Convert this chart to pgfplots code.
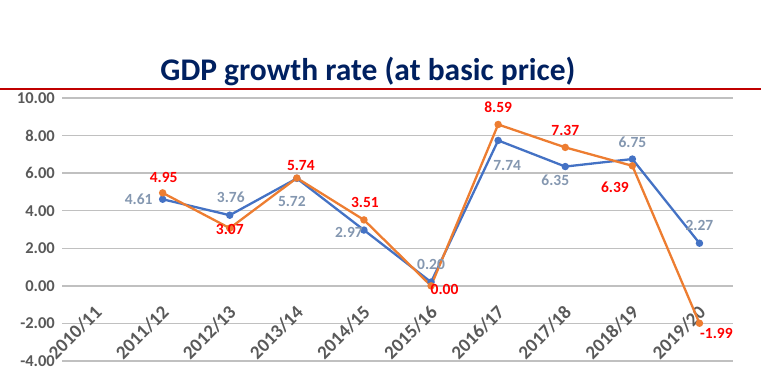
\documentclass[border=0pt]{standalone}
\usepackage{fontspec}
\setmainfont{Carlito}
\usepackage{pgfplots}
\usepackage{pgfplotstable}
\pgfplotsset{compat=1.18}
\definecolor{sblue}{HTML}{4472C4}
\definecolor{sorange}{HTML}{ED7D31}
\definecolor{lblue}{HTML}{8497B0}
\definecolor{lred}{HTML}{FF0000}
\definecolor{tgray}{HTML}{595959}
\definecolor{ggray}{HTML}{C0C0C0}
\definecolor{navy}{HTML}{002060}
\definecolor{dred}{HTML}{C00000}

\pgfplotstableread{
x y lab dx dy
1 4.61 4.61 -24 0
2 3.76 3.76 1 18
3 5.72 5.72 -5 -23.5
4 2.97 2.97 -15 -2
5 0.20 0.20 0 18
6 7.74 7.74 9 -25
7 6.35 6.35 -10 -13.5
8 6.75 6.75 0 17
9 2.27 2.27 0 17.5
}\blueseries

\pgfplotstableread{
x y lab dx dy
1 4.95 4.95 1 15.5
2 3.07 3.07 0 -1
3 5.74 5.74 4 12.5
4 3.51 3.51 1 17
5 0.00 0.00 13.5 -4
6 8.59 8.59 0 17
7 7.37 7.37 0 17
8 6.39 6.39 -17.5 -21
9 -1.99 -1.99 17 -10
}\orangeseries

\begin{document}
\begin{tikzpicture}
\path[use as bounding box] (0,0) rectangle (761pt,371pt);
\node[anchor=base, text=navy, font=\bfseries\fontsize{31.5}{32}\selectfont, inner sep=0pt] at (368pt,290pt) {GDP growth rate (at basic price)};
\draw[dred, line width=1.3pt] (0pt,282pt) -- (761pt,282pt);
\begin{axis}[
  at={(62pt,10pt)}, anchor=south west,
  scale only axis, width=671pt, height=263pt,
  xmin=-0.5, xmax=9.5, ymin=-4, ymax=10,
  xtick={0,...,9},
  xticklabels={2010/11,2011/12,2012/13,2013/14,2014/15,2015/16,2016/17,2017/18,2018/19,2019/20},
  ytick={-4,-2,0,2,4,6,8,10},
  yticklabels={-4.00,-2.00,0.00,2.00,4.00,6.00,8.00,10.00},
  ymajorgrids, grid style={ggray, line width=1.4pt},
  axis line style={draw=none},
  major tick length=0pt, tick style={draw=none},
  yticklabel style={font=\bfseries\fontsize{16.5}{16.5}\selectfont, text=tgray, inner sep=0pt, xshift=-7pt},
  xticklabel style={font=\bfseries\fontsize{19}{19}\selectfont, text=tgray, inner sep=0pt, yshift=52pt, xshift=3pt, rotate=45, anchor=east},
  clip=false,
  point meta=explicit symbolic,
  nodes near coords={\pgfplotspointmeta},
  visualization depends on={\thisrow{dx} \as \mydx},
  visualization depends on={\thisrow{dy} \as \mydy},
]
\addplot[sblue, line width=2.3pt, mark=*, mark size=2.5pt,
  every node near coord/.append style={anchor=center, xshift=\mydx pt, yshift=\mydy pt, inner sep=0pt, font=\bfseries\fontsize{15.5}{15.5}\selectfont, text=lblue}]
  table[x=x, y=y, meta=lab] {\blueseries};
\addplot[sorange, line width=2.3pt, mark=*, mark size=2.5pt,
  every node near coord/.append style={anchor=center, xshift=\mydx pt, yshift=\mydy pt, inner sep=0pt, font=\bfseries\fontsize{15.5}{15.5}\selectfont, text=lred}]
  table[x=x, y=y, meta=lab] {\orangeseries};
\end{axis}
\end{tikzpicture}
\end{document}
